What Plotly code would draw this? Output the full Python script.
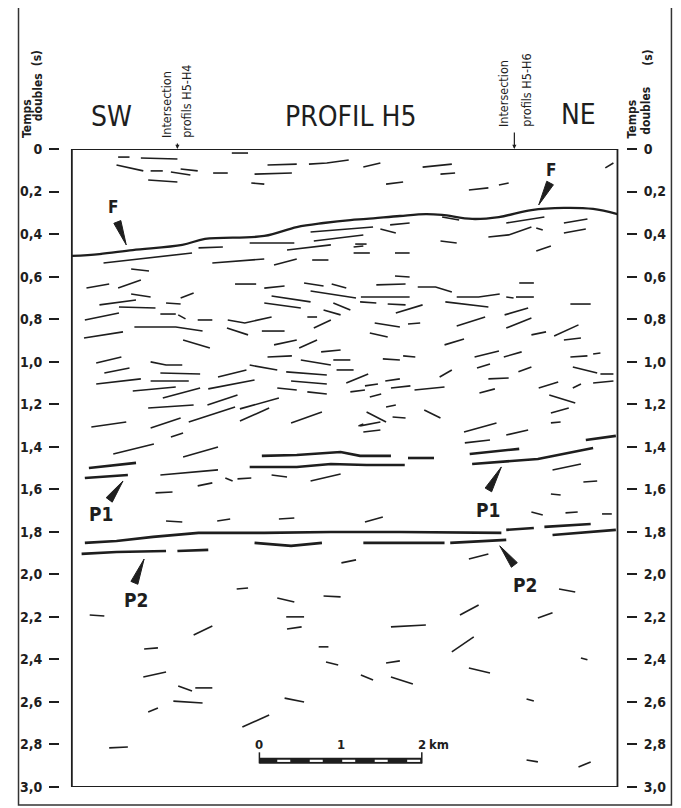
import math
import plotly.graph_objects as go

# --- profil H5 : interprétation sismique (distance en km, temps doubles en s) ---

# réflecteur F
f_km = [0.00, 0.34, 0.75, 1.36, 1.64, 2.37, 2.77, 3.10, 3.43, 3.63, 4.04, 4.36,
        4.56, 4.93, 5.26, 5.66, 6.06, 6.42, 6.72]
f_s = [0.503, 0.494, 0.475, 0.451, 0.423, 0.409, 0.367, 0.348, 0.334, 0.329, 0.315,
       0.306, 0.310, 0.329, 0.320, 0.287, 0.277, 0.282, 0.306]

# réflecteur P1 (tronçons)
p1_lines = [
    [(0.21, 1.500), (0.79, 1.476)],
    [(0.16, 1.547), (0.69, 1.533)],
    [(2.34, 1.443), (2.77, 1.439), (3.31, 1.425), (3.55, 1.443), (3.93, 1.443)],
    [(2.19, 1.495), (2.77, 1.495), (3.19, 1.481), (3.63, 1.486), (4.10, 1.486)],
    [(4.14, 1.453), (4.46, 1.453)],
    [(4.90, 1.434), (5.51, 1.410)],
    [(4.93, 1.481), (5.74, 1.458), (6.42, 1.406)],
    [(6.33, 1.368), (6.70, 1.349)],
]

# réflecteur P2 (tronçons)
p2_lines = [
    [(0.16, 1.852), (0.55, 1.843), (1.00, 1.824), (1.56, 1.805), (2.37, 1.805),
     (3.19, 1.801), (4.04, 1.801), (4.84, 1.805), (5.29, 1.805)],
    [(0.12, 1.904), (0.55, 1.895), (1.16, 1.890)],
    [(1.30, 1.890), (1.68, 1.885)],
    [(2.25, 1.852), (2.70, 1.866), (3.08, 1.852)],
    [(3.59, 1.852), (4.59, 1.852)],
    [(4.66, 1.852), (5.35, 1.838)],
    [(5.35, 1.791), (5.69, 1.782)],
    [(5.82, 1.777), (6.39, 1.763)],
    [(5.92, 1.815), (6.70, 1.791)],
]

# réflecteurs au-dessus de F
refl_top = [
    [(0.57, 0.038), (0.71, 0.038)], [(0.85, 0.042), (1.30, 0.047)],
    [(0.55, 0.075), (0.88, 0.103)], [(0.97, 0.103), (1.12, 0.103)],
    [(1.22, 0.108), (1.46, 0.122)], [(1.34, 0.094), (1.55, 0.103)],
    [(1.74, 0.113), (1.92, 0.113)], [(0.94, 0.146), (1.30, 0.155)],
    [(1.97, 0.019), (2.17, 0.019)], [(2.41, 0.075), (2.77, 0.071)],
    [(2.92, 0.071), (3.14, 0.066), (3.41, 0.052)], [(2.25, 0.118), (2.71, 0.113)],
    [(2.21, 0.160), (2.37, 0.165)], [(3.59, 0.085), (3.80, 0.066)],
    [(4.32, 0.085), (4.68, 0.071)], [(4.54, 0.118), (4.72, 0.113)],
    [(3.87, 0.165), (4.08, 0.155)], [(4.89, 0.193), (5.13, 0.183)],
    [(5.26, 0.169), (5.38, 0.160)], [(6.57, 0.089), (6.67, 0.066)],
]

# réflecteurs entre F et 1 s
refl_upper = [
    [(0.39, 0.536), (1.48, 0.489)], [(1.56, 0.465), (1.86, 0.461)],
    [(2.19, 0.442), (2.74, 0.442)], [(2.65, 0.475), (3.19, 0.451)],
    [(2.94, 0.390), (3.71, 0.367)], [(2.98, 0.433), (3.59, 0.404)],
    [(3.47, 0.461), (3.59, 0.456)], [(1.73, 0.536), (2.37, 0.517)],
    [(2.49, 0.545), (2.77, 0.517)], [(2.96, 0.522), (3.16, 0.522)],
    [(0.73, 0.564), (0.95, 0.574)], [(0.18, 0.654), (0.46, 0.635)],
    [(0.57, 0.654), (0.85, 0.616)], [(2.01, 0.635), (2.27, 0.635)],
    [(2.37, 0.654), (2.62, 0.644)], [(2.86, 0.630), (3.10, 0.644)],
    [(3.20, 0.635), (3.38, 0.654)], [(2.94, 0.668), (3.50, 0.701)],
    [(0.73, 0.682), (0.97, 0.696)], [(0.34, 0.733), (0.79, 0.710)],
    [(0.58, 0.743), (1.03, 0.748)], [(1.16, 0.724), (1.34, 0.729)],
    [(1.34, 0.701), (1.50, 0.677)], [(2.46, 0.691), (2.94, 0.719)],
    [(2.37, 0.724), (2.82, 0.748)], [(3.22, 0.724), (3.43, 0.757)],
    [(0.16, 0.804), (0.58, 0.771)], [(1.09, 0.776), (1.28, 0.776)],
    [(1.31, 0.780), (1.40, 0.799)], [(1.55, 0.804), (1.73, 0.804)],
    [(1.92, 0.804), (2.13, 0.818), (2.46, 0.790)], [(2.90, 0.790), (3.02, 0.790)],
    [(3.10, 0.757), (3.31, 0.780)], [(2.98, 0.842), (3.19, 0.804)],
    [(0.77, 0.837), (1.28, 0.837), (1.61, 0.856)], [(1.91, 0.842), (2.17, 0.874)],
    [(2.34, 0.856), (2.62, 0.856)], [(0.15, 0.889), (0.63, 0.860)],
    [(1.37, 0.898), (1.70, 0.936)], [(2.49, 0.921), (2.77, 0.898)],
    [(2.80, 0.936), (3.02, 0.898)],
    [(3.80, 0.376), (3.99, 0.395)], [(3.92, 0.357), (4.16, 0.348)],
    [(4.56, 0.320), (4.77, 0.334)], [(5.35, 0.348), (5.82, 0.320)],
    [(5.13, 0.414), (5.38, 0.404), (5.66, 0.367)], [(5.72, 0.371), (5.80, 0.381)],
    [(6.06, 0.348), (6.35, 0.329)], [(6.06, 0.395), (6.33, 0.376)],
    [(5.72, 0.480), (5.90, 0.456)], [(3.49, 0.447), (3.63, 0.447)],
    [(3.47, 0.489), (3.67, 0.489)], [(3.98, 0.489), (4.16, 0.489)],
    [(4.54, 0.433), (4.74, 0.442)], [(3.98, 0.597), (4.16, 0.602)],
    [(3.75, 0.639), (4.11, 0.635)], [(4.26, 0.649), (4.48, 0.649), (4.68, 0.672)],
    [(4.74, 0.696), (5.01, 0.696), (5.27, 0.682)], [(5.51, 0.630), (5.69, 0.630)],
    [(5.35, 0.696), (5.44, 0.701)], [(5.47, 0.696), (5.69, 0.696)],
    [(3.56, 0.696), (4.16, 0.696)], [(3.55, 0.719), (3.75, 0.724)],
    [(3.89, 0.729), (4.11, 0.733)], [(3.99, 0.771), (4.32, 0.733)],
    [(4.60, 0.719), (5.13, 0.743)], [(5.33, 0.780), (5.62, 0.748)],
    [(6.14, 0.729), (6.39, 0.729)], [(3.73, 0.818), (4.04, 0.837)],
    [(4.14, 0.823), (4.29, 0.818)], [(4.74, 0.832), (5.09, 0.790)],
    [(5.35, 0.842), (5.66, 0.795)], [(5.66, 0.874), (5.84, 0.860)],
    [(5.94, 0.879), (6.24, 0.827)], [(6.06, 0.898), (6.27, 0.889)],
    [(3.67, 0.865), (3.89, 0.884)], [(4.59, 0.921), (4.83, 0.893)],
]

# réflecteurs entre 1 s et P2
refl_middle = [
    [(0.30, 1.006), (0.61, 0.978)], [(0.97, 1.001), (1.16, 1.016), (1.36, 1.016)],
    [(0.40, 1.053), (0.71, 1.030)], [(1.09, 1.053), (1.58, 1.058)],
    [(0.30, 1.105), (0.85, 1.081)], [(0.97, 1.091), (1.44, 1.091)],
    [(0.75, 1.138), (1.28, 1.119)], [(1.12, 1.171), (1.58, 1.124)],
    [(1.80, 1.072), (2.15, 1.039)], [(1.68, 1.128), (2.25, 1.086)],
    [(2.19, 1.016), (2.53, 1.039)], [(2.41, 0.978), (2.71, 0.973)],
    [(2.82, 0.992), (3.19, 1.016)], [(3.07, 0.954), (3.31, 0.945)],
    [(3.22, 0.992), (3.43, 0.992)], [(2.64, 1.048), (3.14, 1.063)],
    [(3.26, 1.039), (3.47, 1.039)], [(2.70, 1.091), (3.14, 1.105)],
    [(2.53, 1.124), (2.77, 1.133)], [(2.90, 1.142), (3.14, 1.152)],
    [(3.43, 1.142), (3.61, 1.133)], [(0.94, 1.218), (1.50, 1.204)],
    [(1.67, 1.204), (2.04, 1.157)], [(1.44, 1.284), (2.01, 1.213)],
    [(2.07, 1.222), (2.55, 1.171)], [(2.07, 1.279), (2.43, 1.218)],
    [(0.24, 1.307), (0.67, 1.284)], [(0.97, 1.312), (1.34, 1.265)],
    [(2.70, 1.288), (3.08, 1.237)], [(1.22, 1.354), (1.37, 1.335)],
    [(0.51, 1.434), (1.01, 1.387)], [(1.37, 1.448), (1.80, 1.401)],
    [(3.53, 1.302), (3.59, 1.293)],
    [(1.09, 1.533), (1.80, 1.509)], [(1.89, 1.547), (1.98, 1.561)],
    [(2.04, 1.551), (2.21, 1.547)], [(1.55, 1.584), (1.73, 1.570)],
    [(2.46, 1.533), (2.65, 1.542)], [(2.94, 1.561), (3.31, 1.528)],
    [(1.03, 1.617), (1.24, 1.613)], [(1.16, 1.749), (1.36, 1.754)],
    [(1.79, 1.749), (1.95, 1.740)], [(2.55, 1.740), (2.74, 1.735)],
    [(3.83, 0.987), (4.04, 0.992)], [(4.08, 0.973), (4.23, 0.978)],
    [(4.96, 0.978), (5.26, 0.950)], [(5.32, 0.978), (5.54, 0.954)],
    [(4.99, 1.030), (5.15, 1.011)], [(5.50, 1.048), (5.66, 1.025)],
    [(6.14, 0.978), (6.35, 0.973)], [(6.42, 0.964), (6.51, 0.959)],
    [(6.17, 1.025), (6.39, 1.048), (6.47, 1.053)], [(6.51, 1.058), (6.67, 1.058)],
    [(6.42, 1.100), (6.67, 1.091)], [(3.38, 1.100), (3.65, 1.058)],
    [(3.61, 1.114), (3.77, 1.105)], [(3.86, 1.091), (4.04, 1.081)],
    [(3.93, 1.124), (4.17, 1.114)], [(4.22, 1.133), (4.59, 1.119)],
    [(4.53, 1.072), (4.68, 1.039)], [(5.13, 1.081), (5.38, 1.077)],
    [(3.67, 1.166), (3.81, 1.152)], [(5.02, 1.147), (5.21, 1.128)],
    [(5.75, 1.124), (5.99, 1.096)], [(6.17, 1.124), (6.27, 1.105)],
    [(5.88, 1.157), (6.20, 1.194)], [(3.63, 1.237), (3.87, 1.284)],
    [(3.87, 1.213), (3.99, 1.204)], [(3.95, 1.260), (4.11, 1.265)],
    [(4.34, 1.227), (4.54, 1.265)], [(3.55, 1.302), (3.80, 1.284)],
    [(3.59, 1.331), (3.80, 1.321)], [(5.90, 1.241), (6.12, 1.218)],
    [(5.90, 1.288), (6.02, 1.284)], [(4.83, 1.331), (5.23, 1.288)],
    [(5.35, 1.345), (5.62, 1.321)], [(4.84, 1.382), (5.15, 1.368)],
    [(5.92, 1.509), (6.27, 1.481)], [(6.30, 1.566), (6.47, 1.561)],
    [(5.90, 1.622), (6.02, 1.627)], [(5.66, 1.707), (5.80, 1.721)],
    [(6.08, 1.711), (6.23, 1.707)], [(6.53, 1.716), (6.65, 1.716)],
    [(3.61, 1.754), (3.83, 1.730)],
]

# réflecteurs sous P2
refl_lower = [
    [(3.32, 1.946), (3.50, 1.932)], [(4.89, 1.928), (5.13, 1.904)],
    [(0.22, 2.191), (0.40, 2.196)], [(2.03, 2.069), (2.17, 2.064)],
    [(2.53, 2.111), (2.74, 2.130)], [(3.10, 2.102), (3.31, 2.106)],
    [(2.64, 2.200), (2.86, 2.200)], [(2.65, 2.257), (2.83, 2.247)],
    [(1.50, 2.285), (1.73, 2.243)], [(0.89, 2.351), (1.06, 2.346)],
    [(3.04, 2.341), (3.16, 2.341)], [(3.13, 2.412), (3.28, 2.426)],
    [(0.88, 2.483), (1.16, 2.459)], [(1.31, 2.525), (1.48, 2.549)],
    [(1.52, 2.534), (1.73, 2.534)], [(1.25, 2.596), (1.61, 2.605)],
    [(0.94, 2.647), (1.06, 2.628)], [(2.62, 2.582), (2.86, 2.600)],
    [(2.10, 2.718), (2.43, 2.661)], [(0.46, 2.816), (0.69, 2.812)],
    [(6.00, 2.069), (6.20, 2.083)], [(5.74, 2.205), (5.92, 2.181)],
    [(4.78, 2.191), (5.01, 2.144)], [(3.93, 2.247), (4.36, 2.238)],
    [(4.68, 2.365), (4.95, 2.294)], [(4.89, 2.440), (5.15, 2.464)],
    [(3.87, 2.417), (4.04, 2.407)], [(3.56, 2.473), (3.71, 2.497)],
    [(3.93, 2.483), (4.20, 2.516)], [(6.27, 2.393), (6.35, 2.402)],
    [(5.60, 2.586), (5.69, 2.596)], [(5.60, 2.873), (5.74, 2.882)],
    [(6.24, 2.906), (6.39, 2.882)],
]

# repères (texte, pointe de flèche, base de flèche)
labels = ["F", "F", "P1", "P1", "P2", "P2"]
label_pos = [(0.51, 0.273), (5.90, 0.099), (0.36, 1.716), (5.13, 1.697), (0.79, 2.120), (5.58, 2.050)]
arrow_tip = [(0.67, 0.451), (5.75, 0.263), (0.63, 1.561), (5.29, 1.495), (0.89, 1.928), (5.27, 1.866)]
arrow_base = [(0.56, 0.343), (5.89, 0.160), (0.46, 1.650), (5.13, 1.603), (0.77, 2.040), (5.45, 1.956)]

# intersections avec les profils H4 et H6 (km)
intersections = [("Intersection", "profils H5-H4", 1.30), ("Intersection", "profils H5-H6", 5.45)]

# axe des temps
time_ticks = [0, 0.2, 0.4, 0.6, 0.8, 1.0, 1.2, 1.4, 1.6, 1.8, 2.0, 2.2, 2.4, 2.6, 2.8, 3.0]
time_labels = ["0", "0,2", "0,4", "0,6", "0,8", "1,0", "1,2", "1,4", "1,6", "1,8",
               "2,0", "2,2", "2,4", "2,6", "2,8", "3,0"]

# échelle graphique
scale_origin_km = 2.31
scale_marks_km = [0, 1, 2]
scale_step_km = 0.2
scale_y_s = 2.877

profile_end_km = 6.72
x_range = [-0.146, 6.825]
INK = "#1e1e1e"
FONT = "DejaVu Sans Condensed, Liberation Sans Narrow, sans-serif"
TITLE_FONT = "Liberation Sans Narrow, DejaVu Sans Condensed, sans-serif"

# la page ajoute une marge de 8 px autour du graphique
OFF = 8
W, H = 673, 800
ML, MR, MT, MB = 45, 55, 141, 21
PX_KM = (W - ML - MR) / (x_range[1] - x_range[0])
PX_S = (H - MT - MB) / 3.0


def flatten(lines):
    xs, ys = [], []
    for line in lines:
        for x, y in line:
            xs.append(x)
            ys.append(y)
        xs.append(None)
        ys.append(None)
    return xs, ys


def wedge(tip, base, half_px=3.8):
    dx = (tip[0] - base[0]) * PX_KM
    dy = (tip[1] - base[1]) * PX_S
    n = math.hypot(dx, dy)
    nx, ny = -dy / n * half_px, dx / n * half_px
    b1 = (base[0] + nx / PX_KM, base[1] + ny / PX_S)
    b2 = (base[0] - nx / PX_KM, base[1] - ny / PX_S)
    return [tip[0], b1[0], b2[0], tip[0]], [tip[1], b1[1], b2[1], tip[1]]


def px_x(p):
    return (p - OFF - ML) / (W - ML - MR)


def px_y(p):
    return (H - MB - (p - OFF)) / (H - MT - MB)


fig = go.Figure()

thin_x, thin_y = flatten(refl_top + refl_upper + refl_middle + refl_lower)
fig.add_trace(go.Scatter(x=thin_x, y=thin_y, mode="lines",
                         line=dict(color=INK, width=1.6), hoverinfo="skip"))

fig.add_trace(go.Scatter(x=f_km, y=f_s, mode="lines", line_shape="spline",
                         line=dict(color=INK, width=2.3), hoverinfo="skip"))

px_, py_ = flatten(p1_lines + p2_lines)
fig.add_trace(go.Scatter(x=px_, y=py_, mode="lines",
                         line=dict(color=INK, width=2.6), hoverinfo="skip"))

for tip, base in zip(arrow_tip, arrow_base):
    wx, wy = wedge(tip, base)
    fig.add_trace(go.Scatter(x=wx, y=wy, mode="lines", fill="toself", fillcolor=INK,
                             line=dict(color=INK, width=1), hoverinfo="skip"))

# échelle : barre noire + tirets blancs
x0 = scale_origin_km
fig.add_trace(go.Scatter(x=[x0, x0 + scale_marks_km[-1]], y=[scale_y_s, scale_y_s], mode="lines",
                         line=dict(color=INK, width=6), hoverinfo="skip"))
wx, wy = [], []
n_div = round(scale_marks_km[-1] / scale_step_km)
for i in range(1, n_div, 2):
    wx += [x0 + i * scale_step_km + 0.02, x0 + (i + 1) * scale_step_km - 0.02, None]
    wy += [scale_y_s, scale_y_s, None]
fig.add_trace(go.Scatter(x=wx, y=wy, mode="lines", line=dict(color="white", width=2.2),
                         hoverinfo="skip"))
for m in (scale_marks_km[0], scale_marks_km[-1]):
    fig.add_trace(go.Scatter(x=[x0 + m, x0 + m], y=[scale_y_s + 0.012, scale_y_s - 0.04],
                             mode="lines", line=dict(color=INK, width=1.5), hoverinfo="skip"))

# axe de droite
fig.add_trace(go.Scatter(x=[0], y=[0], yaxis="y2", mode="markers",
                         marker=dict(opacity=0), hoverinfo="skip"))

fig.add_shape(type="rect", xref="x", yref="y", x0=0, x1=profile_end_km, y0=0, y1=3.0,
              line=dict(color=INK, width=1.8))
fig.add_shape(type="rect", xref="paper", yref="paper", x0=px_x(11), x1=px_x(672),
              y0=px_y(805), y1=px_y(7), line=dict(color="#333", width=1.5))

ann = []
for t, (x, y) in zip(labels, label_pos):
    ann.append(dict(x=x, y=y, xref="x", yref="y", text=t, showarrow=False,
                    font=dict(family=FONT, size=19 if t != "F" else 17, color=INK, weight="bold")))

for (l1, l2, xkm), (bottom, gap) in zip(intersections, ((140, (-11, 9)), (129, (-11, 12)))):
    xp = OFF + ML + (xkm - x_range[0]) * PX_KM
    for txt, dx in zip((l1, l2), gap):
        ann.append(dict(x=px_x(xp + dx), y=px_y(bottom), xref="paper", yref="paper", text=txt,
                        textangle=-90, showarrow=False, xanchor="center", yanchor="bottom",
                        font=dict(family=FONT, size=12.5, color=INK)))
    ann.append(dict(x=xkm, y=0, xref="x", yref="y", text="", showarrow=True, ax=0,
                    ay=-(149 - bottom) + 2, arrowhead=2, arrowsize=0.7, arrowwidth=1.2,
                    arrowcolor=INK))

for txt, xc, yc in (("SW", 82, 98), ("PROFIL H5", 347, 98), ("NE", 598, 96)):
    ann.append(dict(x=px_x(xc), y=px_y(yc), xref="paper", yref="paper", text=txt,
                    showarrow=False, font=dict(family=TITLE_FONT, size=28, color=INK)))

for txt, xc, yb in (("Temps", 19, 140), ("doubles", 31, 123), ("(s)", 30, 68),
                    ("Temps", 632, 140), ("doubles", 646, 137), ("(s)", 648, 68)):
    ann.append(dict(x=px_x(xc), y=px_y(yb), xref="paper", yref="paper", text=txt,
                    textangle=-90, showarrow=False, xanchor="center", yanchor="bottom",
                    font=dict(family=FONT, size=12, color=INK, weight="bold")))

for m in scale_marks_km:
    ann.append(dict(x=x0 + m, y=2.80, xref="x", yref="y", text=str(m), showarrow=False,
                    font=dict(family=FONT, size=13, color=INK, weight="bold")))
ann.append(dict(x=x0 + scale_marks_km[-1] + 0.07, y=2.80, xref="x", yref="y", text="km",
                showarrow=False, xanchor="left",
                font=dict(family=FONT, size=13, color=INK, weight="bold")))

tick_axis = dict(range=[3.0, 0], tickvals=time_ticks, ticktext=time_labels, ticks="outside",
                 ticklen=10, tickwidth=1.8, tickcolor=INK, showgrid=False, zeroline=False,
                 showline=False, ticklabelstandoff=4,
                 tickfont=dict(family=FONT, size=14, color=INK, weight="bold"))

fig.update_layout(
    width=W, height=H,
    margin=dict(l=ML, r=MR, t=MT, b=MB),
    paper_bgcolor="white", plot_bgcolor="white",
    showlegend=False,
    xaxis=dict(range=x_range, visible=False),
    yaxis=tick_axis,
    yaxis2=dict(tick_axis, overlaying="y", side="right"),
    annotations=ann,
)

fig.write_html("out.html")
